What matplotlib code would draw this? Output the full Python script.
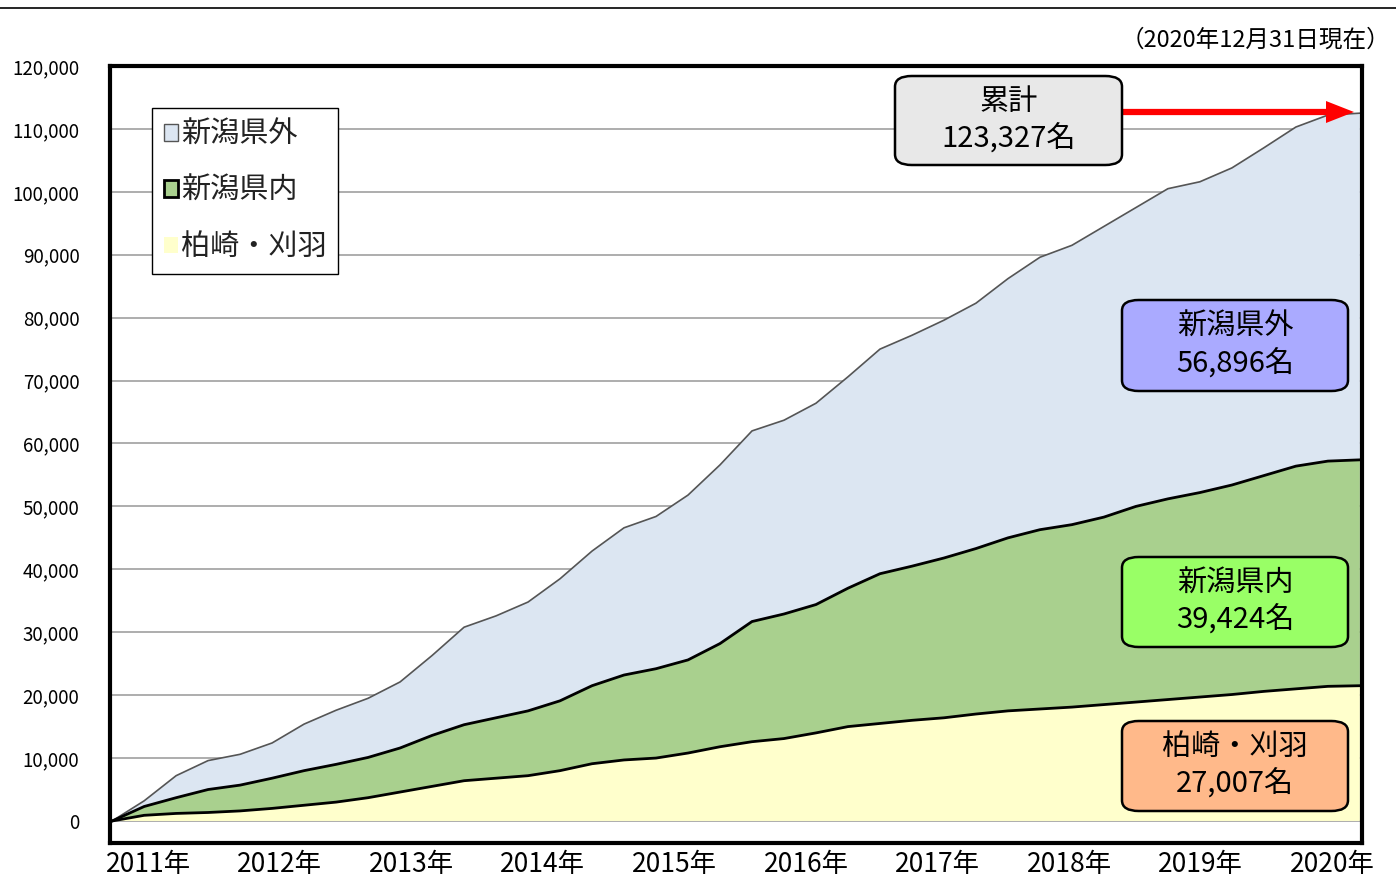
import numpy as np
import matplotlib
matplotlib.use("Agg")
import matplotlib.pyplot as plt
from matplotlib.patches import Patch, FancyBboxPatch

plt.rcParams['font.family'] = ['Noto Sans CJK JP', 'DejaVu Sans']

# quarterly points, months counted from 2011-03 up to 2020-12
months = np.arange(0, 118, 3)

# cumulative people per area
kariwa = [0, 900, 1200, 1350, 1600, 2000, 2500, 3000, 3700, 4600,
          5500, 6400, 6800, 7200, 8000, 9100, 9700, 10000, 10800, 11800,
          12600, 13100, 14000, 15000, 15500, 16000, 16400, 17000, 17500, 17800,
          18100, 18500, 18900, 19300, 19700, 20100, 20600, 21000, 21400, 21500]
niigata_in = [0, 1400, 2500, 3650, 4100, 4800, 5500, 6000, 6400, 7000,
              8100, 8900, 9600, 10300, 11100, 12400, 13500, 14200, 14800, 16400,
              19100, 19800, 20400, 22000, 23800, 24500, 25400, 26300, 27500, 28500,
              29000, 29800, 31100, 31900, 32500, 33300, 34300, 35400, 35800, 35900]
niigata_out = [0, 900, 3500, 4600, 4900, 5600, 7400, 8600, 9400, 10500,
               12700, 15500, 16200, 17300, 19400, 21400, 23400, 24200, 26200, 28400,
               30300, 30800, 32000, 33600, 35700, 36700, 37800, 39000, 41200, 43300,
               44400, 46200, 47500, 49300, 49400, 50400, 52100, 53900, 55000, 55100]

series_names = ["柏崎・刈羽", "新潟県内", "新潟県外"]
series_colors = ["#ffffcc", "#a9d08e", "#dce6f2"]
year_labels = ["2011年", "2012年", "2013年", "2014年", "2015年",
               "2016年", "2017年", "2018年", "2019年", "2020年"]

W, H = 1396, 886
fig = plt.figure(figsize=(W / 100, H / 100), dpi=100)
ax = fig.add_axes([110 / W, 1 - 843 / H, 1252 / W, 777 / H])

ax.stackplot(months, kariwa, niigata_in, niigata_out, colors=series_colors, zorder=2)
edge1 = np.array(kariwa)
edge2 = edge1 + np.array(niigata_in)
edge3 = edge2 + np.array(niigata_out)
ax.plot(months, edge3, color="#555555", lw=1.2, zorder=3)
ax.plot(months, edge2, color="black", lw=2.0, zorder=3)
ax.plot(months, edge1, color="black", lw=2.0, zorder=3)

ax.set_xlim(-0.2, 117.2)
ax.set_ylim(-3500, 120000)
ax.set_yticks(np.arange(0, 120001, 10000))
ax.set_yticklabels([f"{v:,}" for v in range(0, 120001, 10000)], fontsize=13.5)
ax.yaxis.grid(True, color="#a0a0a0", lw=1.2, zorder=1)
ax.set_axisbelow(True)
ax.set_xticks(np.linspace(3.4, 114.4, 10))
ax.set_xticklabels(year_labels, fontsize=19)
ax.tick_params(length=0, pad=6)
ax.tick_params(axis="y", pad=22)
for s in ax.spines.values():
    s.set_linewidth(3)
    s.set_zorder(5)

handles = [Patch(facecolor=series_colors[2], edgecolor="#555555", lw=1),
           Patch(facecolor=series_colors[1], edgecolor="black", lw=2),
           Patch(facecolor=series_colors[0], edgecolor="none")]
leg = ax.legend(handles, [series_names[2], series_names[1], series_names[0]],
                loc="upper left", bbox_to_anchor=(42 / 1252, (843 - 108) / 777),
                borderaxespad=0, fontsize=21, handlelength=0.5, handleheight=0.5,
                handletextpad=0.1, labelspacing=0.9, borderpad=0.4,
                fancybox=False, edgecolor="black", framealpha=1, labelcolor="#222222")
leg.get_frame().set_linewidth(1)


def label_box(x0, y0, x1, y1, color, text):
    box = FancyBboxPatch((x0 / W, 1 - y1 / H), (x1 - x0) / W, (y1 - y0) / H,
                         boxstyle="round,pad=0,rounding_size=0.012",
                         transform=fig.transFigure, facecolor=color,
                         edgecolor="black", lw=1.8, zorder=10)
    fig.patches.append(box)
    fig.text((x0 + x1) / 2 / W, 1 - (y0 + y1) / 2 / H, text, ha="center", va="center",
             fontsize=21, linespacing=1.3, zorder=11)


label_box(895, 76, 1122, 165, "#e8e8e8", "累計\n123,327名")
label_box(1122, 300, 1348, 391, "#aaaaff", "新潟県外\n56,896名")
label_box(1122, 557, 1348, 647, "#99ff66", "新潟県内\n39,424名")
label_box(1122, 721, 1348, 811, "#ffb98a", "柏崎・刈羽\n27,007名")

fig.add_artist(plt.Line2D([1122 / W, 1330 / W], [1 - 112 / H, 1 - 112 / H],
                          transform=fig.transFigure, color="red", lw=4.5, zorder=9))
fig.patches.append(matplotlib.patches.Polygon(
    [[1326 / W, 1 - 101 / H], [1354 / W, 1 - 112 / H], [1326 / W, 1 - 123 / H]],
    closed=True, transform=fig.transFigure, facecolor="red", edgecolor="none", zorder=9))

fig.add_artist(plt.Line2D([0, 1], [1 - 8 / H, 1 - 8 / H], transform=fig.transFigure,
                          color="black", lw=1.2))
fig.text(1390 / W, 1 - 40 / H, "（2020年12月31日現在）", ha="right", va="center", fontsize=17)

fig.savefig("out.png", dpi=100)
